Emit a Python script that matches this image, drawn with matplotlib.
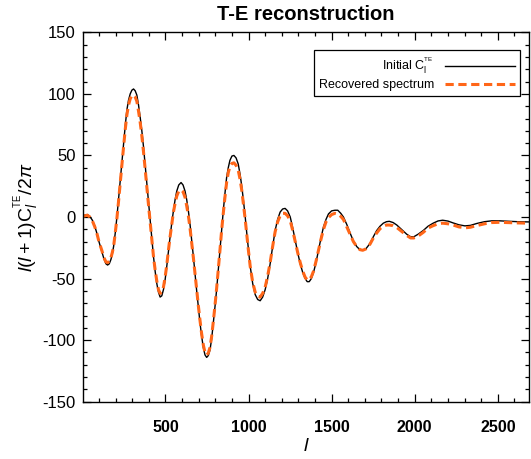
import numpy as np
import matplotlib
matplotlib.use('Agg')
import matplotlib.pyplot as plt
from matplotlib.ticker import MultipleLocator

plt.rcParams['font.family'] = ['Liberation Sans', 'DejaVu Sans']
plt.rcParams['mathtext.fontset'] = 'custom'
plt.rcParams['mathtext.rm'] = 'Liberation Sans'
plt.rcParams['mathtext.it'] = 'Liberation Sans:italic'
plt.rcParams['mathtext.bf'] = 'Liberation Sans:bold'
plt.rcParams['axes.unicode_minus'] = False

# multipole values
ell = [2, 15, 30, 45, 60, 75, 87, 100, 117, 130,
       142, 152, 162, 172, 180, 188, 198, 208, 218, 228,
       238, 248, 258, 268, 278, 288, 298, 308, 318, 328,
       338, 348, 358, 368, 378, 388, 398, 408, 418, 428,
       438, 448, 458, 468, 478, 488, 498, 508, 518, 528,
       538, 548, 558, 568, 580, 594, 606, 618, 628, 638,
       648, 658, 668, 678, 688, 698, 708, 718, 728, 738,
       748, 758, 768, 778, 788, 798, 808, 818, 828, 838,
       848, 858, 868, 878, 888, 900, 912, 925, 938, 950,
       960, 968, 980, 990, 1000, 1010, 1025, 1040, 1055, 1070,
       1085, 1100, 1115, 1130, 1145, 1160, 1175, 1190, 1205, 1220,
       1235, 1251, 1266, 1281, 1296, 1311, 1326, 1341, 1353, 1365,
       1378, 1391, 1406, 1421, 1436, 1451, 1466, 1481, 1500, 1520,
       1537, 1555, 1571, 1591, 1611, 1631, 1651, 1670, 1687, 1705,
       1731, 1751, 1771, 1791, 1811, 1830, 1847, 1870, 1892, 1920,
       1952, 1975, 1995, 2020, 2051, 2080, 2111, 2140, 2168, 2200,
       2231, 2265, 2302, 2335, 2372, 2420, 2463, 2510, 2552, 2620,
       2692]

# initial C_l^TE  (l(l+1)C_l/2pi)
cl_initial = [0.5, 1.5, 2, 0.5, -2.5, -7.5, -13, -20, -28, -34,
              -38, -39, -38, -34.5, -30, -24, -13, 0, 15, 30,
              45, 60, 74, 87, 95, 100, 103, 104, 102.5, 99,
              91, 81, 70, 57, 42, 27, 12, -3, -18, -32,
              -44, -54, -61, -65, -64, -59, -51, -40, -28, -16,
              -5, 5, 14, 21, 26, 28, 26, 21, 14, 5,
              -6, -19, -32, -46, -60, -73, -86, -97, -106, -112,
              -114, -112.5, -108, -99, -86, -73, -59, -43, -27, -11,
              5, 19, 32, 40, 46, 49.5, 50, 48, 43, 34,
              24, 15, 0, -14, -27, -40, -54, -63, -67, -68,
              -65, -59, -50, -38, -24, -11, -2, 4, 6.5, 7,
              5, 0, -9, -19, -29, -38, -45, -50, -52.5, -52.5,
              -50, -45, -37, -27, -17, -8, -2, 2.5, 5, 5.5,
              5.5, 3, 0, -6, -13, -19.5, -24, -26.5, -27, -26,
              -21.5, -16, -11, -7.5, -5, -3.8, -3.5, -4.5, -6.5, -10,
              -14, -16, -16, -14, -11, -7.5, -5, -3.2, -2.6, -3.3,
              -4.8, -6.3, -7.2, -6.8, -5.3, -3.8, -3.1, -3.1, -3.4, -3.8,
              -4]

# recovered spectrum
cl_recovered = [0.5, 1, 1.5, 0, -3, -8, -13, -20, -27, -33,
                -36.5, -37, -36, -33, -29, -24, -13, -1, 13, 28,
                43, 57, 71, 83, 91, 96, 98.5, 99, 97.5, 94,
                86, 77, 66, 53, 39, 24, 10, -4, -18, -32,
                -43, -52, -59, -62, -61, -57, -49, -39, -27, -16,
                -6, 4, 11, 17, 21, 22, 20.5, 16, 9, 1,
                -9, -21, -33, -46, -59, -72, -84, -95, -104, -110,
                -112, -110.5, -106, -97, -85, -72, -58, -43, -27, -11,
                3, 16, 28, 36, 41, 43.5, 44, 42, 38, 30,
                21, 12, -2, -15, -28, -40, -53, -61, -64.5, -65,
                -62, -57, -48, -37, -24, -12, -4, 1, 3, 3,
                1, -3, -11, -20, -29, -37, -44, -49, -51, -51,
                -48.5, -44, -36, -27, -18, -10, -4, -0.5, 2, 3,
                2.5, 0.5, -2, -8, -14, -20, -24, -26.5, -27, -26,
                -22, -17, -13, -9.5, -7.5, -6.5, -6.5, -7, -8.5, -11.5,
                -15, -17, -17, -15.5, -12.5, -9, -7, -5.5, -5, -5.5,
                -6.5, -8, -8.8, -8.3, -7, -5.5, -4.5, -4.3, -4.5, -4.8,
                -5]

fig = plt.figure(figsize=(5.31, 4.59), dpi=100)
ax = fig.add_axes([0.1557, 0.1248, 0.997 - 0.1557, 0.9296 - 0.1248])

ax.plot(ell, cl_initial, '-', color='black', lw=1.0,
        label=r'Initial C$_\mathrm{l}^{{}^\mathrm{TE}}$')
ax.plot(ell, cl_recovered, color='#ff6618', lw=2.2, linestyle=(0, (2.7, 1.5)),
        label='Recovered spectrum')

ax.set_xlim(2, 2690)
ax.set_ylim(-150, 150)
ax.xaxis.set_major_locator(MultipleLocator(500))
ax.xaxis.set_minor_locator(MultipleLocator(100))
ax.yaxis.set_major_locator(MultipleLocator(50))
ax.yaxis.set_minor_locator(MultipleLocator(10))
ax.tick_params(which='both', direction='in', top=True, right=True, width=0.9)
ax.tick_params(which='major', length=6)
ax.tick_params(which='minor', length=3)
ax.tick_params(axis='x', pad=13, labelsize=11.5)
ax.tick_params(axis='y', pad=5, labelsize=12)
ax.set_xticks([500, 1000, 1500, 2000, 2500])
for t in ax.get_xticklabels():
    t.set_fontweight('bold')
for s in ax.spines.values():
    s.set_linewidth(1.0)

ax.set_title('T-E reconstruction', fontsize=14.5, fontweight='bold', pad=9)
ax.set_xlabel(r'$l$', fontsize=14, labelpad=2)
ax.set_ylabel(r'$l(l+1)\mathrm{C}_l^{{}^\mathrm{TE}}/2\pi$', fontsize=14, labelpad=0)

leg = ax.legend(loc='upper right', bbox_to_anchor=(0.979, 0.951), borderaxespad=0,
                markerfirst=False, fontsize=9, handlelength=5.6, handletextpad=0.9,
                fancybox=False, framealpha=1, edgecolor='black',
                borderpad=0.4, labelspacing=0.3)
leg.get_frame().set_linewidth(0.9)
for col in leg._legend_handle_box.get_children():
    col.align = 'right'

fig.savefig('out.png', dpi=100)
